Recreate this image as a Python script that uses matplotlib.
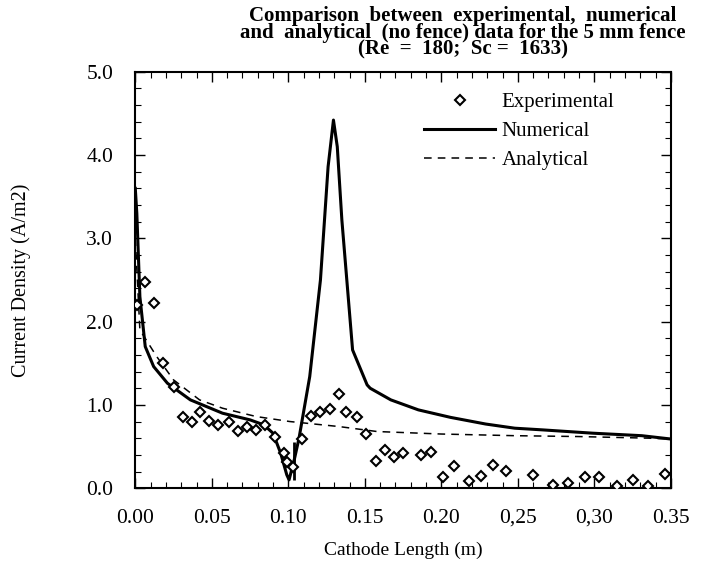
import numpy as np
import matplotlib.pyplot as plt
from matplotlib.ticker import MultipleLocator

plt.rcParams['font.family'] = ['Liberation Serif', 'DejaVu Serif']

# experimental points (cathode length m, current density A/m2)
exp_x = [0.001, 0.0065, 0.0125, 0.018, 0.025, 0.031, 0.037, 0.042, 0.048, 0.054,
         0.061, 0.067, 0.073, 0.079, 0.085, 0.091, 0.097, 0.099, 0.103, 0.109,
         0.115, 0.121, 0.127, 0.133, 0.138, 0.145, 0.151, 0.157, 0.163, 0.169,
         0.175, 0.187, 0.193, 0.201, 0.208, 0.218, 0.226, 0.234, 0.242, 0.26,
         0.273, 0.283, 0.294, 0.303, 0.315, 0.325, 0.335, 0.346]
exp_y = [2.2, 2.48, 2.22, 1.5, 1.22, 0.86, 0.79, 0.92, 0.81, 0.76,
         0.79, 0.69, 0.74, 0.7, 0.76, 0.62, 0.42, 0.32, 0.25, 0.59,
         0.87, 0.91, 0.95, 1.13, 0.92, 0.85, 0.65, 0.33, 0.46, 0.38,
         0.42, 0.4, 0.44, 0.13, 0.27, 0.08, 0.15, 0.28, 0.21, 0.16,
         0.04, 0.06, 0.13, 0.14, 0.03, 0.1, 0.03, 0.17]

# numerical solution
num_x = [0.0, 0.001, 0.003, 0.0065, 0.012, 0.021, 0.036, 0.057, 0.075, 0.084,
         0.09, 0.095, 0.099, 0.1005, 0.104, 0.107, 0.114, 0.121, 0.126, 0.1295,
         0.132, 0.135, 0.142, 0.1515, 0.1535, 0.167, 0.185, 0.206, 0.229, 0.248,
         0.266, 0.299, 0.331, 0.35]
num_y = [3.6, 3.3, 2.3, 1.7, 1.46, 1.26, 1.06, 0.9, 0.82, 0.76,
         0.66, 0.42, 0.16, 0.1, 0.35, 0.6, 1.34, 2.5, 3.86, 4.42,
         4.1, 3.22, 1.66, 1.24, 1.2, 1.06, 0.94, 0.85, 0.77, 0.72,
         0.7, 0.66, 0.63, 0.59]

# analytical solution (no fence)
ana_x = [0.0, 0.003, 0.014, 0.025, 0.042, 0.057, 0.079, 0.101, 0.133, 0.158,
         0.2, 0.248, 0.289, 0.336, 0.35]
ana_y = [3.0, 1.9, 1.58, 1.3, 1.06, 0.96, 0.86, 0.8, 0.74, 0.68,
         0.65, 0.63, 0.62, 0.6, 0.59]

fence_x = 0.104

xticks = [0.0, 0.05, 0.10, 0.15, 0.20, 0.25, 0.30, 0.35]
xtick_labels = ['0.00', '0.05', '0.10', '0.15', '0.20', '0,25', '0,30', '0.35']
yticks = [0, 1, 2, 3, 4, 5]
ytick_labels = ['0.0', '1.0', '2.0', '3.0', '4.0', '5.0']

fig = plt.figure(figsize=(7.01, 5.65), dpi=100)
ax = fig.add_axes([0.193, 0.136, 0.764, 0.737])

ax.plot(exp_x, exp_y, linestyle='none', marker='D', markersize=5,
        markerfacecolor='white', markeredgecolor='black', markeredgewidth=1.5,
        label='Experimental', zorder=3)
ax.plot(num_x, num_y, color='black', linewidth=2.2, label='Numerical')
ax.plot(ana_x, ana_y, color='black', linewidth=1.1, linestyle=(0, (5, 4)),
        label='Analytical')
ax.vlines(fence_x, 0.1, 0.55, color='black', linewidth=2)

ax.set_xlim(0, 0.35)
ax.set_ylim(0, 5)
ax.set_xticks(xticks)
ax.set_xticklabels(xtick_labels)
ax.set_yticks(yticks)
ax.set_yticklabels(ytick_labels)
ax.xaxis.set_minor_locator(MultipleLocator(0.01))
ax.yaxis.set_minor_locator(MultipleLocator(0.2))
ax.tick_params(which='both', direction='in', top=True, right=True, labelsize=15.5)
ax.tick_params(which='major', length=7, width=1)
ax.tick_params(which='minor', length=4, width=0.8)
ax.tick_params(axis='x', pad=15)
ax.tick_params(axis='y', pad=16)
for s in ax.spines.values():
    s.set_linewidth(1.5)

ax.set_xlabel('Cathode Length (m)', fontsize=14, labelpad=10)
ax.set_ylabel('Current Density (A/m2)', fontsize=14.5, labelpad=40)

fig.text(0.66, 0.99,
         'Comparison  between  experimental,  numerical\n'
         'and  analytical  (no fence) data for the 5 mm fence\n'
         '(Re  =  180;  Sc =  1633)',
         ha='center', va='top', fontsize=15, fontweight='bold', linespacing=0.8)

ax.legend(loc='upper left', bbox_to_anchor=(0.54, 0.95), frameon=False,
          fontsize=15, handlelength=3.4, handletextpad=0.3, labelspacing=0.45,
          borderaxespad=0, borderpad=0)

fig.savefig('out.png', dpi=100)
